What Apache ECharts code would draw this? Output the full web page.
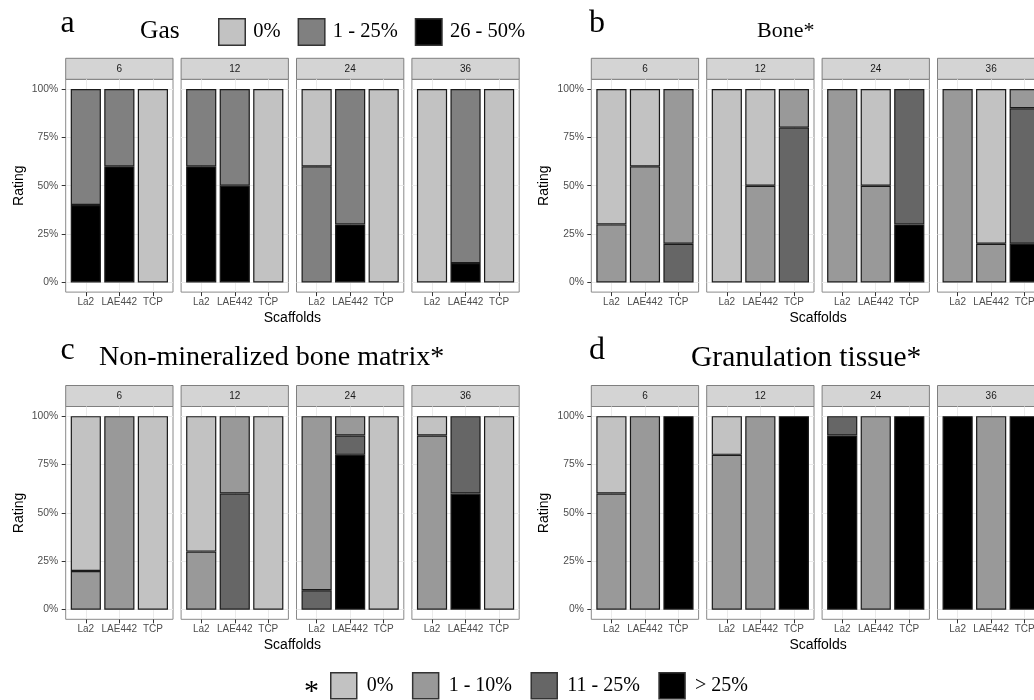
<!DOCTYPE html>
<html><head><meta charset="utf-8">
<script src="https://cdn.jsdelivr.net/npm/echarts@6/dist/echarts.min.js"></script>
<style>html,body{margin:0;padding:0;background:#fff}#c{width:1034px;height:700px}</style>
</head><body><div id="c"></div>
<script>
// ---------------- data ----------------
const facets = ['6', '12', '24', '36'];
const scaffolds = ['La2', 'LAE442', 'TCP'];
const yTicks = [0, 25, 50, 75, 100];
const gasLevels = ['0%', '1 - 25%', '26 - 50%'];
const tissueLevels = ['0%', '1 - 10%', '11 - 25%', '> 25%'];
const gasColors = ['#c2c2c2', '#808080', '#000000'];
const tissueColors = ['#c2c2c2', '#999999', '#666666', '#000000'];

// values (%), facet-major: [6: La2, LAE442, TCP | 12: ... | 24: ... | 36: ...]
const gas_0     = [0, 0, 100,   0, 0, 100,   40, 0, 100,  100, 0, 100];
const gas_1_25  = [60, 40, 0,   40, 50, 0,   60, 70, 0,   0, 90, 0];
const gas_26_50 = [40, 60, 0,   60, 50, 0,   0, 30, 0,    0, 10, 0];

const bone_0     = [70, 40, 0,  100, 50, 0,  0, 50, 0,    0, 80, 0];
const bone_1_10  = [30, 60, 80, 0, 50, 20,   100, 50, 0,  100, 20, 10];
const bone_11_25 = [0, 0, 20,   0, 0, 80,    0, 0, 70,    0, 0, 70];
const bone_gt25  = [0, 0, 0,    0, 0, 0,     0, 0, 30,    0, 0, 20];

const matrix_0     = [80, 0, 100,  70, 0, 100,  0, 0, 100,   10, 0, 100];
const matrix_1_10  = [20, 100, 0,  30, 40, 0,   90, 10, 0,   90, 0, 0];
const matrix_11_25 = [0, 0, 0,     0, 60, 0,    10, 10, 0,   0, 40, 0];
const matrix_gt25  = [0, 0, 0,     0, 0, 0,     0, 80, 0,    0, 60, 0];

const gran_0     = [40, 0, 0,   20, 0, 0,    0, 0, 0,     0, 0, 0];
const gran_1_10  = [60, 100, 0, 80, 100, 0,  0, 100, 0,   0, 100, 0];
const gran_11_25 = [0, 0, 0,    0, 0, 0,     10, 0, 0,    0, 0, 0];
const gran_gt25  = [0, 0, 100,  0, 0, 100,   90, 0, 100,  100, 0, 100];

const panels = [
  { letter: 'a', title: 'Gas', titleSize: 25.5, levels: gasLevels, colors: gasColors, values: [gas_0, gas_1_25, gas_26_50], col: 0, row: 0, titleX: 140 },
  { letter: 'b', title: 'Bone*', titleSize: 22, levels: tissueLevels, colors: tissueColors, values: [bone_0, bone_1_10, bone_11_25, bone_gt25], col: 1, row: 0, titleX: 757 },
  { letter: 'c', title: 'Non-mineralized bone matrix*', titleSize: 28, levels: tissueLevels, colors: tissueColors, values: [matrix_0, matrix_1_10, matrix_11_25, matrix_gt25], col: 0, row: 1, titleX: 99 },
  { letter: 'd', title: 'Granulation tissue*', titleSize: 29.5, levels: tissueLevels, colors: tissueColors, values: [gran_0, gran_1_10, gran_11_25, gran_gt25], col: 1, row: 1, titleX: 691 }
];

// ---------------- layout ----------------
const L = { panelW: 107.3, stepX: 115.4, colLeft: [65.7, 591.3], rowTop: [79.3, 406.5], panelH: 212.8, stripH: 21,
            letterX: [60.5, 589], letterY: [24, 351], titleY: [31, 358], scaffY: [318, 645] };
const SANS = 'Liberation Sans', SERIF = 'Liberation Serif';
// ggplot discrete scale: categories at 1..3, expanded by 0.6 on each side -> [0.4, 3.6]
const xMin = 0.4, xMax = 3.6;
const xPos = scaffolds.map((s, k) => k + 1);
const inset = L.panelW * (0.5 - xMin) / (xMax - xMin);
const innerW = L.panelW * 3 / (xMax - xMin);

const grids = [], xAxes = [], yAxes = [], series = [], graphics = [];
let ai = 0;
panels.forEach(p => {
  const top = L.rowTop[p.row];
  facets.forEach((f, fi) => {
    const left = L.colLeft[p.col] + fi * L.stepX;
    const first = fi === 0;
    // frame grid: panel border, ticks, labels, grid lines
    grids.push({ left, top, width: L.panelW, height: L.panelH, show: true, backgroundColor: '#fff',
                 borderColor: '#8a8a8a', borderWidth: 1, containLabel: false, outerBoundsMode: 'none' });
    xAxes.push({
      type: 'value', gridIndex: ai, min: xMin, max: xMax,
      axisLine: { show: false, onZero: false },
      axisTick: { show: true, customValues: xPos, length: 4, lineStyle: { color: '#333', width: 1 } },
      axisLabel: { show: true, customValues: xPos, formatter: v => scaffolds[Math.round(v) - 1],
                   fontFamily: SANS, fontSize: 10, color: '#4d4d4d', margin: 5 },
      splitLine: { show: true, lineStyle: { color: '#ebebeb', width: 1 } }
    });
    yAxes.push({
      type: 'value', gridIndex: ai, min: -5, max: 105,
      axisLine: { show: false, onZero: false },
      axisTick: { show: first, customValues: yTicks, length: 4, lineStyle: { color: '#333', width: 1 } },
      axisLabel: { show: first, customValues: yTicks, formatter: v => v + '%',
                   fontFamily: SANS, fontSize: 10.3, color: '#4d4d4d', margin: 7.5 },
      splitLine: { show: true, lineStyle: { color: '#ebebeb', width: 1 } },
      name: first ? 'Rating' : '', nameLocation: 'middle', nameGap: 40,
      nameTextStyle: { fontFamily: SANS, fontSize: 14, color: '#000' }
    });
    ai++;
    // data grid: category band [0.5, 3.5] of the same panel
    grids.push({ left: left + inset, top, width: innerW, height: L.panelH, show: false, containLabel: false, outerBoundsMode: 'none' });
    xAxes.push({ type: 'category', gridIndex: ai, data: scaffolds, show: false, boundaryGap: true });
    yAxes.push({ type: 'value', gridIndex: ai, min: -5, max: 105, show: false, splitLine: { show: false } });
    // stack from highest level (bottom) to 0% (top)
    for (let li = p.levels.length - 1; li >= 0; li--) {
      const vals = p.values[li];
      series.push({
        type: 'bar', name: p.levels[li], xAxisIndex: ai, yAxisIndex: ai, stack: 's' + ai,
        barWidth: '90%', animation: false, silent: true,
        data: scaffolds.map((s, k) => { const v = vals[fi * 3 + k]; return v === 0 ? '-' : v; }),
        itemStyle: { color: p.colors[li], borderColor: '#1a1a1a', borderWidth: 1.2 }
      });
    }
    ai++;
    // facet strip
    graphics.push({ type: 'rect', silent: true,
      shape: { x: left, y: top - L.stripH, width: L.panelW, height: L.stripH },
      style: { fill: '#d4d4d4', stroke: '#7f7f7f', lineWidth: 1 } });
    graphics.push({ type: 'text', silent: true, x: left + L.panelW / 2, y: top - L.stripH / 2,
      style: { text: f, font: '10px "' + SANS + '"', fill: '#1a1a1a', align: 'center', verticalAlign: 'middle' } });
  });
  const panelCenter = L.colLeft[p.col] + (3 * L.stepX + L.panelW) / 2;
  graphics.push({ type: 'text', silent: true, x: panelCenter, y: L.scaffY[p.row],
    style: { text: 'Scaffolds', font: '14px "' + SANS + '"', fill: '#000', align: 'center', verticalAlign: 'middle' } });
  graphics.push({ type: 'text', silent: true, x: L.letterX[p.col], y: L.letterY[p.row],
    style: { text: p.letter, font: '32px "' + SERIF + '"', fill: '#000', align: 'left', verticalAlign: 'middle' } });
  graphics.push({ type: 'text', silent: true, x: p.titleX, y: L.titleY[p.row],
    style: { text: p.title, font: p.titleSize + 'px "' + SERIF + '"', fill: '#000', align: 'left', verticalAlign: 'middle' } });
});
graphics.push({ type: 'text', silent: true, x: 311.5, y: 692,
  style: { text: '*', font: '30px "' + SERIF + '"', fill: '#000', align: 'center', verticalAlign: 'middle' } });

const legendCommon = {
  orient: 'horizontal', padding: 0, icon: 'rect', selectedMode: false,
  itemStyle: { borderColor: '#333', borderWidth: 1.5 }
};

const chart = echarts.init(document.getElementById('c'), null, { renderer: 'canvas' });
chart.setOption({
  animation: false,
  backgroundColor: '#fff',
  grid: grids, xAxis: xAxes, yAxis: yAxes, series,
  legend: [
    Object.assign({}, legendCommon, { data: gasLevels, left: 218, top: 18, itemWidth: 26.5, itemHeight: 26.5, itemGap: 17,
      textStyle: { fontFamily: SERIF, fontSize: 20.5, color: '#000', padding: [0, 0, 0, 3] } }),
    Object.assign({}, legendCommon, { data: tissueLevels, left: 330, top: 672, itemWidth: 26, itemHeight: 26, itemGap: 18.5,
      textStyle: { fontFamily: SERIF, fontSize: 20, color: '#000', padding: [0, 0, 0, 5] } })
  ],
  graphic: graphics
});
</script></body></html>
